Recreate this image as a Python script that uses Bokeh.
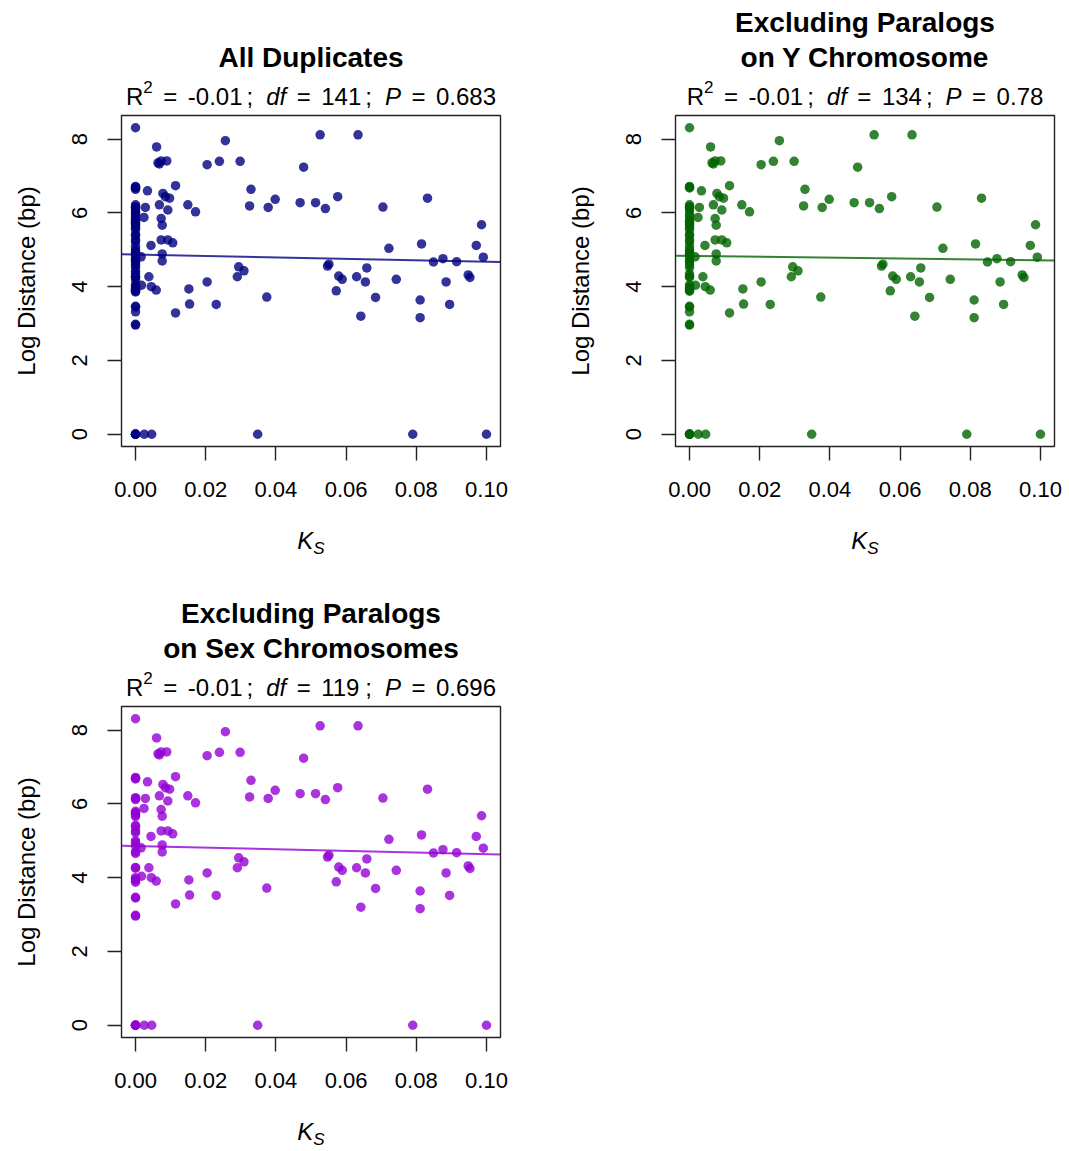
from bokeh.plotting import figure
from bokeh.layouts import column, row
from bokeh.models import Range1d, FixedTicker, PrintfTickFormatter, Label
from bokeh.embed import file_html
from bokeh.resources import INLINE

# ---------------- data ----------------
# Ks / log-distance pairs present in all three panels
ks_common = [
    # near zero
    0.0016, 0.0028, 0.0024, 0.0034, 0.0044, 0.0038, 0.0045, 0.0017, 0.0059, 0.0025, 0.0046,
    # 0.006 - 0.011
    0.0060, 0.0064, 0.0073, 0.0089, 0.0068, 0.0078, 0.0085, 0.0097, 0.0114, 0.0068, 0.0092,
    0.0073, 0.0076, 0.0073, 0.0092, 0.0106, 0.0076, 0.0076,
    # 0.011 - 0.05
    0.0114, 0.0149, 0.0171, 0.0152, 0.0154, 0.0204, 0.0239, 0.0256, 0.0298, 0.0204, 0.0230,
    0.0294, 0.0309, 0.0290, 0.0329, 0.0325, 0.0348, 0.0374, 0.0378, 0.0398, 0.0469, 0.0479,
    # 0.05 - 0.10
    0.0513, 0.0526, 0.0541, 0.0551, 0.0547, 0.0576, 0.0579, 0.0589, 0.0572, 0.0630, 0.0634,
    0.0642, 0.0655, 0.0659, 0.0684, 0.0705, 0.0722, 0.0743, 0.0790, 0.0811, 0.0811, 0.0815,
    0.0832, 0.0849, 0.0876, 0.0885, 0.0895, 0.0915, 0.0948, 0.0953, 0.0971, 0.0986, 0.0991,
    0.1000,
    # Ks = 0
    0.0, 0.0, 0.0, 0.0, 0.0, 0.0, 0.0, 0.0, 0.0, 0.0, 0.0, 0.0,
    0.0, 0.0, 0.0, 0.0, 0.0, 0.0, 0.0, 0.0, 0.0, 0.0, 0.0, 0.0,
    0.0, 0.0, 0.0, 0.0, 0.0, 0.0, 0.0, 0.0, 0.0, 0.0, 0.0, 0.0,
]
ld_common = [
    4.81, 6.15, 5.88, 6.60, 5.12, 4.27, 4.00, 4.04, 3.91, 0.00, 0.00,
    7.79, 7.36, 7.41, 7.41, 7.33, 6.53, 6.44, 6.40, 6.74, 6.22, 6.08,
    5.85, 5.67, 5.27, 5.27, 5.19, 4.89, 4.70,
    3.29, 6.22, 6.03, 3.94, 3.53, 7.31, 7.40, 7.96, 7.40, 4.13, 3.52,
    4.54, 4.43, 4.27, 6.64, 6.19, 0.00, 3.72, 6.15, 6.37, 6.28, 7.24,
    6.28, 8.12, 6.12, 4.61, 4.56, 6.44, 4.29, 4.20, 3.89, 4.27, 8.12,
    3.20, 4.13, 4.51, 3.71, 6.16, 5.04, 4.20, 0.00, 3.64, 3.16, 5.16,
    6.40, 4.67, 4.76, 4.13, 3.52, 4.68, 4.32, 4.25, 5.12, 5.68, 4.80,
    0.00,
    8.31, 6.72, 6.70, 6.68, 6.17, 6.15, 6.12, 5.74, 5.80, 5.76, 5.70, 5.66,
    5.42, 5.38, 5.27, 5.22, 5.00, 4.95, 4.86, 4.70, 4.66, 4.28, 4.26, 4.00,
    3.96, 3.92, 3.88, 3.47, 3.45, 2.98, 2.96, 0.00, 0.00, 0.00, 0.00, 0.00,
]
# pairs on the X chromosome (dropped in the "sex chromosomes" panel)
ks_xchrom = [0.0] * 15
ld_xchrom = [6.05, 5.95, 5.90, 5.60, 5.55, 5.10, 4.90, 4.78, 4.59, 4.52, 4.35, 4.05, 3.90, 3.32, 6.22]
# pairs on the Y chromosome (only in "All Duplicates")
ks_ychrom = [0.0] * 7
ld_ychrom = [6.64, 5.84, 4.74, 4.42, 3.86, 4.18, 6.00]

panel_titles = [["All Duplicates"],
                ["Excluding Paralogs", "on Y Chromosome"],
                ["Excluding Paralogs", "on Sex Chromosomes"]]
r2_values = ["-0.01", "-0.01", "-0.01"]
df_values = ["141", "134", "119"]
p_values = ["0.683", "0.78", "0.696"]
fit_intercept = [4.87, 4.835, 4.86]
fit_slope = [-1.94, -1.20, -2.22]
panel_colors = ["#000080", "#006400", "#9400D3"]

x_ticks = [0.0, 0.02, 0.04, 0.06, 0.08, 0.10]
y_ticks = [0, 2, 4, 6, 8]

# ---------------- style ----------------
FONT = "Liberation Sans"
FW, FH = 379, 331
FS = 24          # subtitle size
FS_SUP = 17
TITLE_FS = 28
TICK_FS = "22px"
PLOT_TOP, PLOT_BOTTOM = 2, 65
TITLE_H = 113
BASE_FIX = 0.4   # compensates where the renderer puts the alphabetic baseline (x font size)
# Arial / Liberation Sans advance widths (em)
CW = {"R": 0.722, "=": 0.584, "-": 0.333, ".": 0.278, ";": 0.278, "d": 0.556,
      "f": 0.278, "P": 0.667, "K": 0.667, "S": 0.667}
for c in "0123456789":
    CW[c] = 0.556


def text_w(s, size):
    return sum(CW[c] for c in s) * size


def panel_data(i):
    ks = list(ks_common)
    ld = list(ld_common)
    if i <= 1:
        ks += ks_xchrom
        ld += ld_xchrom
    if i == 0:
        ks += ks_ychrom
        ld += ld_ychrom
    return ks, ld


all_ks, all_ld = panel_data(0)
xspan = max(all_ks) - min(all_ks)
yspan = max(all_ld) - min(all_ld)
x_lim = (min(all_ks) - 0.04 * xspan, max(all_ks) + 0.04 * xspan)
y_lim = (min(all_ld) - 0.04 * yspan, max(all_ld) + 0.04 * yspan)


def strip(left, right, height):
    # a text-only strip whose frame lines up with the plot frame below/above it
    s = figure(frame_width=FW, frame_height=height, x_range=Range1d(0, FW),
               y_range=Range1d(0, height), x_axis_location=None, y_axis_location=None,
               output_backend="svg", toolbar_location=None,
               min_border_left=left, min_border_right=right,
               min_border_top=0, min_border_bottom=0,
               background_fill_color="white", border_fill_color="white")
    s.outline_line_color = None
    s.grid.visible = False
    return s


def add_label(p, x, y, text, size, style="normal", align="left"):
    p.add_layout(Label(x=x, y=y + BASE_FIX * size, text=text,
                       text_font=FONT, text_font_size=f"{size}px", text_font_style=style,
                       text_color="black", text_align=align, text_baseline="alphabetic"))


def make_panel(i, left, right, total_h):
    ks, ld = panel_data(i)
    color = panel_colors[i]
    cx = FW / 2

    # ---- title strip ----
    t = strip(left, right, TITLE_H)
    lines = panel_titles[i]
    above = PLOT_TOP  # distance from strip bottom to plot frame top
    if len(lines) == 1:
        add_label(t, cx, 47 - above, lines[0], TITLE_FS, "bold", "center")
    else:
        add_label(t, cx, 81.5 - above, lines[0], TITLE_FS, "bold", "center")
        add_label(t, cx, 47 - above, lines[1], TITLE_FS, "bold", "center")
    G_OP, G_SB, G_SA = 10.5, 4.0, 13.0
    pieces = [("R", "normal", FS, 0, 0), ("2", "normal", FS_SUP, 11.8, 0),
              ("=", "normal", FS, 0, G_OP), (r2_values[i], "normal", FS, 0, G_OP),
              (";", "normal", FS, 0, G_SB), ("df", "italic", FS, 0, G_SA),
              ("=", "normal", FS, 0, G_OP), (df_values[i], "normal", FS, 0, G_OP),
              (";", "normal", FS, 0, G_SB), ("P", "italic", FS, 0, G_SA),
              ("=", "normal", FS, 0, G_OP), (p_values[i], "normal", FS, 0, G_OP)]
    total = sum(text_w(tx, s) + g for tx, _, s, _, g in pieces)
    x = cx - total / 2
    base = 9.5 - above
    for tx, st, s, rise, g in pieces:
        x += g
        add_label(t, x, base + rise, tx, s, st)
        x += text_w(tx, s)

    # ---- plot ----
    p = figure(frame_width=FW, frame_height=FH,
               x_range=Range1d(*x_lim), y_range=Range1d(*y_lim),
               output_backend="svg", toolbar_location=None,
               min_border_left=left, min_border_right=right,
               min_border_top=PLOT_TOP, min_border_bottom=PLOT_BOTTOM,
               background_fill_color="white", border_fill_color="white")
    p.grid.visible = False
    p.outline_line_color = "#222222"
    p.outline_line_width = 1.4
    for ax in (p.xaxis[0], p.yaxis[0]):
        ax.axis_line_color = None
        ax.major_tick_out = 14
        ax.major_tick_in = 0
        ax.minor_tick_line_color = None
        ax.major_tick_line_color = "#222222"
        ax.major_tick_line_width = 1.4
        ax.major_label_text_font = FONT
        ax.major_label_text_font_size = TICK_FS
        ax.major_label_text_color = "black"
    p.xaxis.ticker = FixedTicker(ticks=x_ticks)
    p.xaxis.formatter = PrintfTickFormatter(format="%.2f")
    p.xaxis.major_label_standoff = 21
    p.yaxis.ticker = FixedTicker(ticks=y_ticks)
    p.yaxis.formatter = PrintfTickFormatter(format="%d")
    p.yaxis.major_label_orientation = "vertical"
    p.yaxis.major_label_standoff = 20
    p.yaxis.axis_label = "Log Distance (bp)"
    p.yaxis.axis_label_text_font = FONT
    p.yaxis.axis_label_text_font_size = "24px"
    p.yaxis.axis_label_text_font_style = "normal"
    p.yaxis.axis_label_text_color = "black"
    p.yaxis.axis_label_standoff = 30

    p.scatter(ks, ld, size=9.5, fill_color=color, fill_alpha=0.8, line_color=None)
    x0, x1 = x_lim
    p.line([x0, x1], [fit_intercept[i] + fit_slope[i] * x0, fit_intercept[i] + fit_slope[i] * x1],
           line_color=color, line_alpha=0.8, line_width=2)

    # ---- x label strip: italic K with subscript S ----
    kh = total_h - TITLE_H - (PLOT_TOP + FH + PLOT_BOTTOM)
    k = strip(left, right, kh)
    base_k = kh - (103.5 - PLOT_BOTTOM)
    kw = text_w("K", 24) + text_w("S", 17)
    kx = cx - kw / 2
    add_label(k, kx, base_k, "K", 24, "italic")
    add_label(k, kx + text_w("K", 24), base_k - 4.8, "S", 17, "italic")
    return column(t, p, k)


c1 = make_panel(0, 121, 34, 591)
c2 = make_panel(1, 141, 15, 591)
c3 = make_panel(2, 121, 34, 560)

layout = column(row(c1, c2), row(c3))
open("out.html", "w").write(file_html(layout, INLINE))
